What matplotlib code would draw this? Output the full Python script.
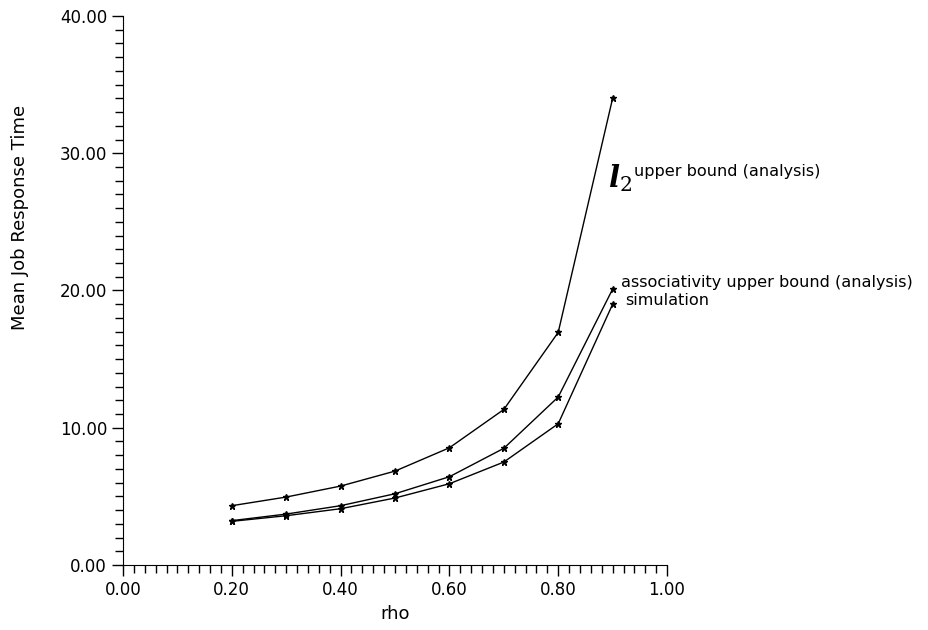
import numpy as np
import matplotlib
matplotlib.use('Agg')
import matplotlib.pyplot as plt
from matplotlib.ticker import MultipleLocator, FormatStrFormatter

# values
rho = [0.2, 0.3, 0.4, 0.5, 0.6, 0.7, 0.8, 0.9]
l2_bound = [4.32, 4.95, 5.75, 6.84, 8.54, 11.33, 16.95, 34.0]
assoc_bound = [3.23, 3.71, 4.32, 5.19, 6.43, 8.50, 12.24, 20.1]
simulation = [3.18, 3.59, 4.10, 4.88, 5.92, 7.50, 10.29, 19.0]

plt.rcParams['font.family'] = ['DejaVu Sans']
plt.rcParams['mathtext.fontset'] = 'custom'
plt.rcParams['mathtext.it'] = 'DejaVu Serif:italic:bold'
plt.rcParams['mathtext.rm'] = 'DejaVu Serif'

fig = plt.figure(figsize=(9.29, 6.3), dpi=100)
ax = fig.add_axes([0.1324, 0.1032, 0.5856, 0.8714])

for ys in (l2_bound, assoc_bound, simulation):
    ax.plot(rho, ys, color='black', lw=1.0, marker='*', ms=5, clip_on=False)

ax.set_xlim(0, 1.0)
ax.set_ylim(0, 40)
ax.spines['top'].set_visible(False)
ax.spines['right'].set_visible(False)

ax.xaxis.set_major_locator(MultipleLocator(0.2))
ax.xaxis.set_minor_locator(MultipleLocator(0.02))
ax.yaxis.set_major_locator(MultipleLocator(10))
ax.yaxis.set_minor_locator(MultipleLocator(1))
ax.xaxis.set_major_formatter(FormatStrFormatter('%.2f'))
ax.yaxis.set_major_formatter(FormatStrFormatter('%.2f'))
ax.tick_params(which='major', direction='out', length=8, width=1, labelsize=12)
ax.tick_params(which='minor', direction='out', length=5.5, width=1)

ax.set_xlabel('rho', fontsize=13, labelpad=4)
fig.text(0.022, 0.655, 'Mean Job Response Time', rotation=90, fontsize=13,
         ha='center', va='center')

# curve labels
ax.text(0.891, 28.2, r'$l_\mathrm{2}$', fontsize=21, ha='left', va='center')
ax.text(0.94, 28.7, 'upper bound (analysis)', fontsize=11.6, ha='left', va='center')
ax.text(0.915, 20.6, 'associativity upper bound (analysis)', fontsize=11.6,
        ha='left', va='center')
ax.text(0.923, 19.3, 'simulation', fontsize=11.6, ha='left', va='center')

fig.savefig('out.png', dpi=100)
